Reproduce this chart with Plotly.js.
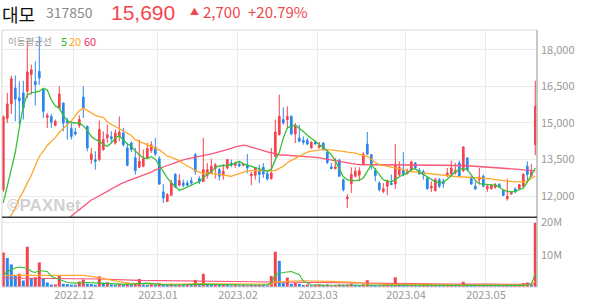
<!DOCTYPE html>
<html><head><meta charset="utf-8">
<script src="https://cdn.plot.ly/plotly-3.0.1.min.js"></script>
<style>html,body{margin:0;padding:0;background:#fff;} #chart{width:594px;height:304px;}</style>
</head><body><div id="chart"></div>
<script>
// ---- data ----
const dates = [
'2022-11-07','2022-11-08','2022-11-09','2022-11-10','2022-11-11','2022-11-14','2022-11-15','2022-11-16','2022-11-17','2022-11-18',
'2022-11-21','2022-11-22','2022-11-23','2022-11-24','2022-11-25','2022-11-28','2022-11-29','2022-11-30',
'2022-12-01','2022-12-02','2022-12-05','2022-12-06','2022-12-07','2022-12-08','2022-12-09','2022-12-12','2022-12-13','2022-12-14',
'2022-12-15','2022-12-16','2022-12-19','2022-12-20','2022-12-21','2022-12-22','2022-12-23','2022-12-26','2022-12-27','2022-12-28','2022-12-29',
'2023-01-02','2023-01-03','2023-01-04','2023-01-05','2023-01-06','2023-01-09','2023-01-10','2023-01-11','2023-01-12','2023-01-13',
'2023-01-16','2023-01-17','2023-01-18','2023-01-19','2023-01-20','2023-01-25','2023-01-26','2023-01-27','2023-01-30','2023-01-31',
'2023-02-01','2023-02-02','2023-02-03','2023-02-06','2023-02-07','2023-02-08','2023-02-09','2023-02-10','2023-02-13','2023-02-14',
'2023-02-15','2023-02-16','2023-02-17','2023-02-20','2023-02-21','2023-02-22','2023-02-23','2023-02-24','2023-02-27','2023-02-28',
'2023-03-02','2023-03-03','2023-03-06','2023-03-07','2023-03-08','2023-03-09','2023-03-10','2023-03-13','2023-03-14','2023-03-15',
'2023-03-16','2023-03-17','2023-03-20','2023-03-21','2023-03-22','2023-03-23','2023-03-24','2023-03-27','2023-03-28','2023-03-29',
'2023-03-30','2023-03-31',
'2023-04-03','2023-04-04','2023-04-05','2023-04-06','2023-04-07','2023-04-10','2023-04-11','2023-04-12','2023-04-13','2023-04-14',
'2023-04-17','2023-04-18','2023-04-19','2023-04-20','2023-04-21','2023-04-24','2023-04-25','2023-04-26','2023-04-27','2023-04-28',
'2023-05-02','2023-05-03','2023-05-04','2023-05-08','2023-05-09','2023-05-10','2023-05-11','2023-05-12','2023-05-15','2023-05-16',
'2023-05-17','2023-05-18','2023-05-19'];

const openP = [12270,15180,15780,16430,16020,16230,16300,16980,16700,17110,
16360,15230,15270,14900,15610,15820,15070,14770,14630,14900,
16060,14860,13500,13500,13500,13910,14390,14440,14180,14450,
14590,13980,14180,13570,13190,13230,13570,13870,14000,13540,
12180,11790,12040,12890,12450,12540,12540,12640,13700,12720,
12610,12860,12950,13130,13090,12860,13160,13360,13270,13320,
13270,13290,12840,12860,13090,13190,12930,12720,13640,14520,
15140,15140,15270,14550,14390,14290,14290,13980,14220,14000,
14180,13800,13200,13130,13470,12680,11900,12520,12820,12860,
13290,14140,13700,13050,12540,12200,12410,12540,12500,12890,
13090,12930,13090,13360,13050,13020,12750,12340,12230,12680,
12610,12860,12910,12950,13360,13050,13570,12780,12410,12680,
12820,12310,12310,12370,12480,12230,11900,12090,12300,12310,
12410,13230,12820,14110];
const highP = [15300,16230,16940,16940,16700,16730,18340,17390,17520,18550,
16430,15410,15370,15140,16500,15820,15200,15000,14800,15310,
16500,14900,13980,13840,15100,14660,14930,14660,14730,15270,
14800,14180,14250,13980,14320,13910,14180,14250,14390,13640,
12500,12130,12680,12950,12910,12680,12640,12780,13770,12820,
14390,13360,13530,13360,13160,13320,13530,13500,13430,13430,
13360,13730,12990,13190,13290,13360,13090,13980,15140,16160,
15640,15680,15310,15000,14930,14450,14390,14250,14280,14220,
14210,13870,13360,13570,13540,12720,12090,13190,13190,13190,
13810,14630,13730,13160,12610,12540,12680,12890,14140,13430,
13810,13130,13460,13400,13160,13090,12780,12610,12750,12750,
12720,13160,13460,13360,13460,14040,13590,12820,12610,13160,
12890,12480,12500,12540,12540,12270,12720,12200,12370,12500,
12950,13430,13320,16730];
const lowP = [12180,15000,15370,15070,14930,15140,16020,16160,15720,16570,
15200,14800,14800,14860,15540,14660,14320,14320,14490,14800,
15200,13840,13320,13090,13430,13870,14180,14180,14110,14250,
14040,13230,13810,12890,13160,13190,13540,13770,13640,12480,
11730,11770,12000,12340,12400,12370,12410,12450,12890,12500,
12590,12720,12910,12720,12640,12680,13090,13190,13160,13190,
13230,12950,12450,12680,12540,12750,12640,12680,13590,14490,
14930,14770,14490,14180,14220,14110,14090,13950,14110,13950,
13870,13320,13120,13100,12790,12200,11520,12140,12780,12610,
13270,13700,13090,12610,12200,12130,12040,12450,12300,12820,
12820,12890,12990,13090,12890,12680,12270,12180,12200,12340,
12340,12780,12860,12890,12780,12990,13020,12480,12270,12480,
12370,12180,12270,12310,12340,12000,11820,12070,12130,12270,
12370,12540,12780,13680];
const closeP = [15270,15780,16810,15980,15910,15610,17090,17180,16570,16840,
15480,15310,15030,15070,16190,15000,15000,14450,14550,15140,
15610,13980,13730,13430,14730,14320,14520,14360,14590,14630,
14110,13270,13910,13050,13430,13540,13950,14110,13730,12500,
11930,12070,12540,12370,12650,12450,12450,12540,13020,12590,
13090,13090,13230,13290,12820,13020,13500,13270,13360,13240,
13320,13160,12910,13160,12890,12910,12710,12950,14630,15270,
15000,15270,14550,14900,14250,14210,14140,14210,14140,14090,
13910,13390,13130,13200,12820,12270,11970,12890,13020,13050,
13730,13730,13320,12840,12270,12310,12640,12480,13320,13190,
12890,13020,13400,13160,12910,12890,12310,12410,12680,12410,
12520,12950,13160,13050,12820,14020,13090,12500,12300,12780,
12410,12410,12450,12480,12370,12040,12000,12160,12180,12480,
12890,12890,12990,15690];
// volume, millions of shares
const volumeM = [10.7,9.0,7.0,3.5,4.1,2.0,12.5,2.8,3.0,7.6,
2.5,1.4,0.75,0.8,3.7,1.0,0.9,0.75,0.7,1.7,
2.3,1.0,0.9,0.7,3.3,1.3,1.5,0.8,0.7,1.0,
0.8,1.3,0.8,1.2,2.5,0.8,0.7,1.0,0.8,1.2,
0.8,0.6,1.0,0.7,0.8,0.6,0.7,0.6,2.2,0.6,
4.1,1.0,0.6,0.8,0.6,0.8,0.6,0.5,0.6,0.5,
0.6,0.5,0.7,0.6,0.7,0.6,0.5,3.4,10.9,8.1,
1.3,2.9,1.0,1.3,1.0,0.6,0.8,0.5,0.7,0.75,
0.6,0.8,0.5,0.6,0.8,0.7,0.75,1.0,0.7,0.6,
0.8,2.1,0.7,0.6,0.5,0.6,0.7,0.6,3.0,0.8,
0.7,0.6,0.7,0.6,0.5,0.6,0.7,0.6,0.7,0.6,
0.5,0.6,0.7,0.6,0.7,1.6,0.8,0.7,0.6,0.6,
0.5,0.55,0.5,0.5,0.45,0.5,0.7,0.5,0.5,0.6,
1.2,1.4,0.8,19.9];
// moving averages
const ma5 = [11730,12400,13100,13800,14800,15700,16150,16230,16260,16300,
16420,16350,15950,15700,15610,15300,15100,15020,15000,15000,
14880,14700,14450,14330,14250,14120,14050,14180,14380,14480,
14300,14150,14050,13850,13700,13570,13540,13620,13520,13250,
13000,12750,12550,12400,12250,12300,12360,12450,12540,12600,
12750,12900,13000,13180,13240,13270,13270,13290,13350,13430,
13330,13280,13200,13160,13120,13060,13020,13100,13500,13800,
14380,14800,14880,14910,14790,14650,14500,14380,14250,14120,
14000,13850,13700,13450,13100,12800,12680,12640,12640,12660,
12750,13050,13290,13100,12900,12680,12620,12590,12680,12800,
12880,12950,13090,13130,13000,12900,12800,12700,12590,12550,
12570,12700,12850,13000,13100,13130,13090,12880,12650,12520,
12500,12480,12470,12450,12380,12260,12200,12180,12200,12280,
12340,12580,12880,13160];
const ma20 = [10700,10950,11200,11500,11930,12200,12550,12850,13250,13630,
13850,14080,14250,14400,14620,14760,14900,15080,15300,15500,
15610,15500,15400,15310,15260,15230,15040,14950,14860,14760,
14660,14560,14490,14320,14250,14180,14120,14070,14000,13900,
13770,13640,13590,13540,13460,13330,13250,13160,13050,12990,
12930,12950,12940,12930,12900,12880,12840,12820,12880,12940,
12990,13040,13050,13050,13040,13020,13040,13040,13050,13140,
13230,13380,13460,13570,13640,13700,13810,13850,13880,13900,
13910,13910,13900,13870,13860,13840,13810,13800,13770,13720,
13680,13630,13530,13380,13300,13270,13230,13200,13180,13130,
13090,13030,13010,12990,12970,12950,12930,12920,12890,12870,
12850,12820,12800,12810,12800,12790,12780,12770,12750,12750,
12750,12730,12710,12680,12660,12640,12600,12590,12590,12590,
12590,12630,12720,12830];
const ma60 = [null,null,null,null,null,null,null,null,null,null,
null,null,null,null,10850,10950,11070,11190,11320,11450,
11570,11700,11850,11930,12010,12100,12200,12300,12400,12480,
12560,12620,12680,12750,12810,12870,12930,12990,13080,13150,
13200,13260,13320,13380,13450,13490,13530,13560,13590,13620,
13660,13700,13740,13780,13820,13850,13900,13960,14020,14070,
14090,14060,14020,13970,13920,13870,13820,13780,13730,13700,
13690,13680,13670,13660,13650,13635,13620,13600,13590,13570,
13540,13510,13480,13440,13410,13380,13360,13340,13320,13300,
13290,13290,13290,13290,13290,13290,13290,13290,13290,13290,
13290,13290,13290,13290,13290,13290,13290,13290,13290,13290,
13290,13290,13290,13280,13270,13260,13250,13240,13230,13215,
13200,13190,13180,13170,13160,13150,13140,13120,13110,13100,
13080,13070,13055,13040];
// volume moving averages (day index, millions)
const volMa5Day = [0,1,3,4,6,7,8,9,11,12,14,16,18,21,24,27,31,36,39,43,46,49,52,58,63,66,67,68,70,72,73,74,75,77,80,90,100,110,120,130,131,132,133];
const volMa5 = [3.5,4.8,5.9,6.2,5.9,4.8,4.5,5.1,4.8,3.3,2.3,1.4,1.2,1.4,1.2,1.0,0.8,1.2,0.8,0.6,0.8,0.9,0.8,0.6,0.6,0.7,1.2,3.8,4.5,4.8,4.3,3.8,1.8,0.7,0.6,0.6,0.5,0.5,0.45,0.5,0.7,0.9,4.2];
const volMa20Day = [0,20,22,24,27,31,35,41,49,57,64,67,68,71,74,82,88,91,96,105,113,130,132,133];
const volMa20 = [3.6,3.6,3.3,2.8,2.0,1.2,1.0,0.8,1.0,0.9,0.8,0.9,1.6,1.85,1.95,1.75,1.44,1.0,0.8,0.8,0.6,0.6,0.8,1.75];
const volMa60Day = [0,24,34,41,49,57,66,72,81,88,97,105,113,122,130,133];
const volMa60 = [2.8,2.5,2.06,1.95,1.75,1.75,1.44,1.54,1.44,1.23,1.0,0.9,0.9,0.9,0.8,1.0];

const monthTickDates = ['2022-12-01','2023-01-02','2023-02-01','2023-03-02','2023-04-03','2023-05-02'];
const monthTickLabels = ['2022.12','2023.01','2023.02','2023.03','2023.04','2023.05'];
const priceTicks = [12000,13500,15000,16500,18000];
const volTicks = [10,20];
const volTickLabels = ['10M','20M'];

// ---- styling ----
const RED = '#f5434e', BLUE = '#2a87ee';
const C5 = '#35c035', C20 = '#ffa82e', C60 = '#fb5577';
const FONT = "'Noto Sans CJK KR','Noto Sans',sans-serif";
const LATIN = "'Liberation Sans',Arial,sans-serif";
const L = 2, R = 537, T = 30, B = 287;
const px = v => (v - L) / (R - L);
const py = v => (B - v) / (B - T);
const SPLIT = py(217.3);

const xIdx = dates.map((d, i) => i);
const volColors = volumeM.map((v, i) => (i === 0 || v >= volumeM[i - 1]) ? RED : BLUE);

const traces = [
  {type:'candlestick', x:xIdx, open:openP, high:highP, low:lowP, close:closeP,
   increasing:{line:{color:RED,width:1}, fillcolor:RED},
   decreasing:{line:{color:BLUE,width:1}, fillcolor:BLUE},
   whiskerwidth:0, xaxis:'x', yaxis:'y', hoverinfo:'skip'},
  {type:'scatter', mode:'lines', x:xIdx, y:ma60, line:{color:C60,width:1.3}, xaxis:'x', yaxis:'y', hoverinfo:'skip'},
  {type:'scatter', mode:'lines', x:xIdx, y:ma20, line:{color:C20,width:1.3}, xaxis:'x', yaxis:'y', hoverinfo:'skip'},
  {type:'scatter', mode:'lines', x:xIdx, y:ma5, line:{color:C5,width:1.3}, xaxis:'x', yaxis:'y', hoverinfo:'skip'},
  {type:'bar', x:xIdx, y:volumeM, marker:{color:volColors, line:{width:0}}, xaxis:'x', yaxis:'y2', hoverinfo:'skip'},
  {type:'scatter', mode:'lines', x:volMa60Day, y:volMa60, line:{color:C60,width:1.1}, xaxis:'x', yaxis:'y2', hoverinfo:'skip'},
  {type:'scatter', mode:'lines', x:volMa20Day, y:volMa20, line:{color:C20,width:1.1}, xaxis:'x', yaxis:'y2', hoverinfo:'skip'},
  {type:'scatter', mode:'lines', x:volMa5Day, y:volMa5, line:{color:C5,width:1.1}, xaxis:'x', yaxis:'y2', hoverinfo:'skip'}
];

const ann = (text, x, y, size, color, family, yanchor) => ({
  text, xref:'paper', yref:'paper', x:px(x), y:py(y), xanchor:'left', yanchor:yanchor || 'middle',
  showarrow:false, font:{family:family || FONT, size, color}, borderpad:0
});

const layout = {
  width:594, height:304,
  margin:{l:L, r:594-R, t:T, b:304-B, pad:0},
  paper_bgcolor:'#fff', plot_bgcolor:'#fff',
  showlegend:false, hovermode:false,
  font:{family:FONT, size:11, color:'#999'},
  boxgap:0.4, bargap:0.25,
  xaxis:{type:'linear', range:[-0.325,133.425], anchor:'y2',
    tickvals:monthTickDates.map(d => dates.indexOf(d) - 0.33), ticktext:monthTickLabels,
    showgrid:true, gridcolor:'#ebebeb', gridwidth:1, zeroline:false, showline:false, ticks:'',
    tickfont:{family:FONT, size:11, color:'#999'}, rangeslider:{visible:false}, fixedrange:true},
  yaxis:{domain:[SPLIT,1], range:[11140,18806], side:'right', anchor:'x',
    tickvals:priceTicks, tickformat:',d', showgrid:true, gridcolor:'#ebebeb', zeroline:false,
    showline:false, ticks:'', ticklabelstandoff:3, tickfont:{family:FONT, size:11, color:'#999'}},
  yaxis2:{domain:[0,SPLIT], range:[0,21.58], side:'right', anchor:'x',
    tickvals:volTicks, ticktext:volTickLabels, showgrid:true, gridcolor:'#ebebeb', zeroline:false,
    showline:false, ticks:'', ticklabelstandoff:3, tickfont:{family:FONT, size:11, color:'#999'}},
  shapes:[
    {type:'rect', xref:'paper', yref:'paper', x0:0, x1:1, y0:0, y1:1, line:{color:'#d6d6d6', width:1}},
    {type:'line', xref:'paper', yref:'paper', x0:1, x1:1, y0:0, y1:1, line:{color:'#bdbdbd', width:1.5}},
    {type:'line', xref:'paper', yref:'paper', x0:0, x1:1, y0:SPLIT, y1:SPLIT, line:{color:'#3a3a3a', width:1.5}}
  ],
  annotations:[
    ann('대모', 0.5, 0.5, 18, '#111111', FONT, 'top'),
    ann('317850', 45, 11.5, 14, '#8a8a8a'),
    ann('15,690', 110, 0.5, 21, '#f2464f', LATIN, 'top'),
    ann('▲', 189, 11, 9, '#f2464f'),
    ann('2,700', 202, 11.5, 15, '#f2464f'),
    ann('+20.79%', 247, 11.5, 15, '#f2464f'),
    ann('이동평균선', 7, 41, 9.5, '#9a9a9a'),
    ann('5', 60, 41, 11, '#2fb52f'),
    ann('20', 67.5, 41, 11, '#ffa31a'),
    ann('60', 82.5, 41, 11, '#ee2a68'),
    ann('<b>©PAXNet</b>', 6, 205, 17, 'rgba(150,150,150,0.45)', LATIN)
  ]
};

Plotly.newPlot('chart', traces, layout, {staticPlot:true, displayModeBar:false});
</script>
</body></html>
